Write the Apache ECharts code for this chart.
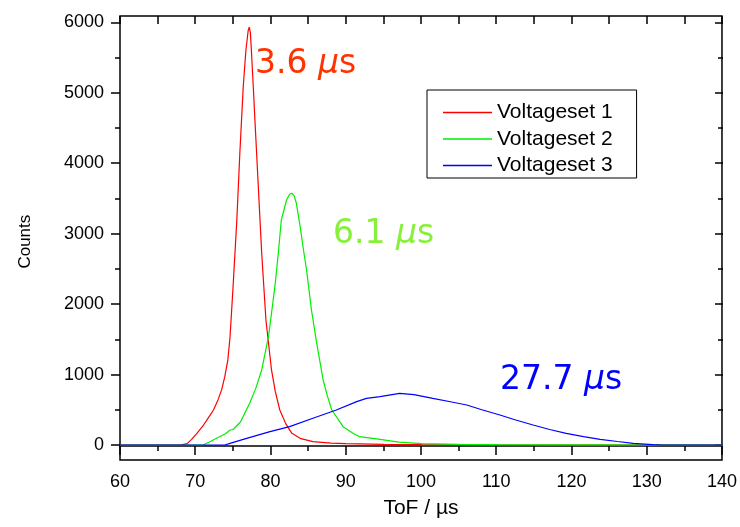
<!DOCTYPE html>
<html>
<head>
<meta charset="utf-8">
<script src="https://cdn.jsdelivr.net/npm/echarts@6/dist/echarts.min.js"></script>
<style>
  html, body { margin: 0; padding: 0; background: #ffffff; }
  #chart { width: 740px; height: 527px; }
</style>
</head>
<body>
<div id="chart"></div>
<script>
// Time-of-flight spectra for three voltage settings
const seriesNames = ['Voltageset 1', 'Voltageset 2', 'Voltageset 3'];
const seriesColors = ['#ff0000', '#00ee00', '#0000ff'];

const tof1 = [60, 68.0, 68.9, 69.5, 70.2, 71.0, 71.8, 72.4, 73.0, 73.5, 73.9, 74.3, 74.6, 75.0, 75.5, 75.9, 76.35, 76.7, 77.0, 77.15, 77.3, 77.45, 77.7, 77.9, 78.35, 78.8, 79.36, 80.1, 80.6, 81.2, 82.0, 82.8, 84.0, 85.6, 88, 90, 95, 100, 110, 140];
const counts1 = [0, 0, 20, 80, 166, 270, 400, 497, 640, 790, 970, 1200, 1537, 2247, 3194, 4145, 5086, 5600, 5880, 5930, 5850, 5560, 5050, 4613, 3666, 2721, 1774, 1065, 760, 497, 300, 166, 90, 47, 28, 20, 10, 5, 0, 0];

const tof2 = [60, 71.0, 72.0, 72.8, 74.0, 74.6, 75.0, 76.0, 77.2, 78.0, 78.8, 79.7, 80.55, 81.0, 81.4, 82.1, 82.5, 82.8, 83.1, 83.4, 83.9, 84.3, 84.75, 85.4, 86.1, 86.95, 87.5, 88.1, 89.6, 91.0, 91.8, 94.5, 97, 100, 105, 110, 120, 140];
const counts2 = [0, 0, 50, 95, 160, 213, 220, 330, 592, 800, 1065, 1537, 2247, 2721, 3194, 3478, 3560, 3573, 3540, 3431, 3099, 2800, 2484, 1916, 1443, 923, 700, 497, 260, 160, 118, 80, 40, 20, 10, 5, 2, 0];

const tof3 = [60, 73.9, 74.6, 76.8, 79.9, 82.5, 85.6, 88.7, 91.4, 92.7, 94.5, 97.1, 99, 101.5, 104, 106, 108, 110.4, 112.5, 114.8, 117, 119.2, 121.5, 123.7, 126, 128.1, 130.7, 132, 140];
const counts3 = [0, 0, 24, 95, 189, 260, 379, 497, 615, 662, 686, 733, 715, 662, 610, 568, 500, 426, 355, 284, 220, 166, 120, 80, 50, 24, 5, 0, 0];

// Peak widths written next to each curve
const widthLabels = ['3.6 ', '6.1 ', '27.7 '];
const widthColors = ['#ff3300', '#88f03a', '#0000ff'];

const xTicks = { min: 60, max: 140, interval: 10 };
const yTicks = { min: 0, max: 6000, interval: 1000 };

const zip = (xs, ys) => xs.map((x, i) => [x, ys[i]]);
const seriesData = [zip(tof1, counts1), zip(tof2, counts2), zip(tof3, counts3)];

const chart = echarts.init(document.getElementById('chart'), null, { renderer: 'canvas' });

const axisFont = { fontFamily: 'Liberation Sans, Arial, sans-serif', color: '#000' };
const lineStyle = { color: '#000', width: 1.5 };
const plain = v => String(v);

const option = {
  animation: false,
  backgroundColor: '#ffffff',
  grid: [
    // grid 0: data area spanning 0..6000 counts
    { left: 120, right: 17, top: 22.3, bottom: 82, containLabel: false },
    // grid 1: plot frame
    { left: 120, right: 17, top: 16, bottom: 67, show: true, borderColor: '#000', borderWidth: 1.5, backgroundColor: 'transparent' }
  ],
  xAxis: [
    { gridIndex: 0, type: 'value', min: xTicks.min, max: xTicks.max, interval: xTicks.interval, show: false },
    {
      gridIndex: 1, type: 'value', position: 'bottom', min: xTicks.min, max: xTicks.max, interval: xTicks.interval,
      axisLine: { show: true, lineStyle: lineStyle },
      axisTick: { show: true, inside: false, length: 9, lineStyle: lineStyle },
      minorTick: { show: true, splitNumber: 2, length: 5, lineStyle: { color: '#000', width: 1.5 } },
      splitLine: { show: false },
      axisLabel: Object.assign({ fontSize: 18, margin: 13, formatter: plain }, axisFont),
      name: 'ToF / µs', nameLocation: 'middle', nameGap: 38,
      nameTextStyle: Object.assign({ fontSize: 21 }, axisFont)
    },
    {
      gridIndex: 1, type: 'value', position: 'top', min: xTicks.min, max: xTicks.max, interval: xTicks.interval,
      axisLine: { show: false },
      axisTick: { show: true, inside: true, length: 8, lineStyle: lineStyle },
      minorTick: { show: true, splitNumber: 2, length: 8, lineStyle: { color: '#000', width: 1.5 } },
      splitLine: { show: false },
      axisLabel: { show: false }
    }
  ],
  yAxis: [
    {
      gridIndex: 0, type: 'value', position: 'left', min: yTicks.min, max: yTicks.max, interval: yTicks.interval,
      axisLine: { show: false },
      axisTick: { show: true, inside: false, length: 9, lineStyle: lineStyle },
      minorTick: { show: true, splitNumber: 2, length: 5, lineStyle: { color: '#000', width: 1.5 } },
      splitLine: { show: false },
      axisLabel: Object.assign({ fontSize: 18, margin: 16, formatter: plain }, axisFont),
      name: 'Counts', nameLocation: 'middle', nameGap: 86, nameRotate: 90,
      nameTextStyle: Object.assign({ fontSize: 17, padding: [0, 16, 0, 0] }, axisFont)
    },
    {
      gridIndex: 0, type: 'value', position: 'right', min: yTicks.min, max: yTicks.max, interval: yTicks.interval,
      axisLine: { show: false },
      axisTick: { show: true, inside: true, length: 8, lineStyle: lineStyle },
      minorTick: { show: true, splitNumber: 2, length: 5, lineStyle: { color: '#000', width: 1.5 } },
      splitLine: { show: false },
      axisLabel: { show: false }
    },
    { gridIndex: 1, type: 'value', min: -200, max: 6100, show: false }
  ],
  legend: {
    orient: 'vertical',
    left: 427, top: 90,
    padding: [12, 24, 2, 16],
    icon: 'rect',
    itemWidth: 49, itemHeight: 1.4, itemGap: 5.5,
    backgroundColor: '#ffffff',
    borderColor: '#000', borderWidth: 1,
    textStyle: Object.assign({ fontSize: 21, lineHeight: 21 }, axisFont),
    data: seriesNames
  },
  series: seriesNames.map((name, i) => ({
    name: name,
    type: 'line',
    xAxisIndex: 0, yAxisIndex: 0,
    data: seriesData[i],
    symbol: 'none',
    clip: false,
    smooth: false,
    color: seriesColors[i],
    lineStyle: { color: seriesColors[i], width: 1.2 }
  })),
  graphic: [
    { pos: [255, 48] },
    { pos: [333, 218] },
    { pos: [500, 364] }
  ].map((g, i) => ({
    type: 'text',
    left: g.pos[0], top: g.pos[1],
    style: {
      text: '{n|' + widthLabels[i] + '}{m|μ}{n|s}',
      fill: widthColors[i],
      rich: {
        n: { fontFamily: 'DejaVu Sans, sans-serif', fontSize: 33, fill: widthColors[i] },
        m: { fontFamily: 'DejaVu Sans, sans-serif', fontSize: 33, fontStyle: 'italic', fill: widthColors[i] }
      }
    }
  }))
};

chart.setOption(option);
</script>
</body>
</html>
